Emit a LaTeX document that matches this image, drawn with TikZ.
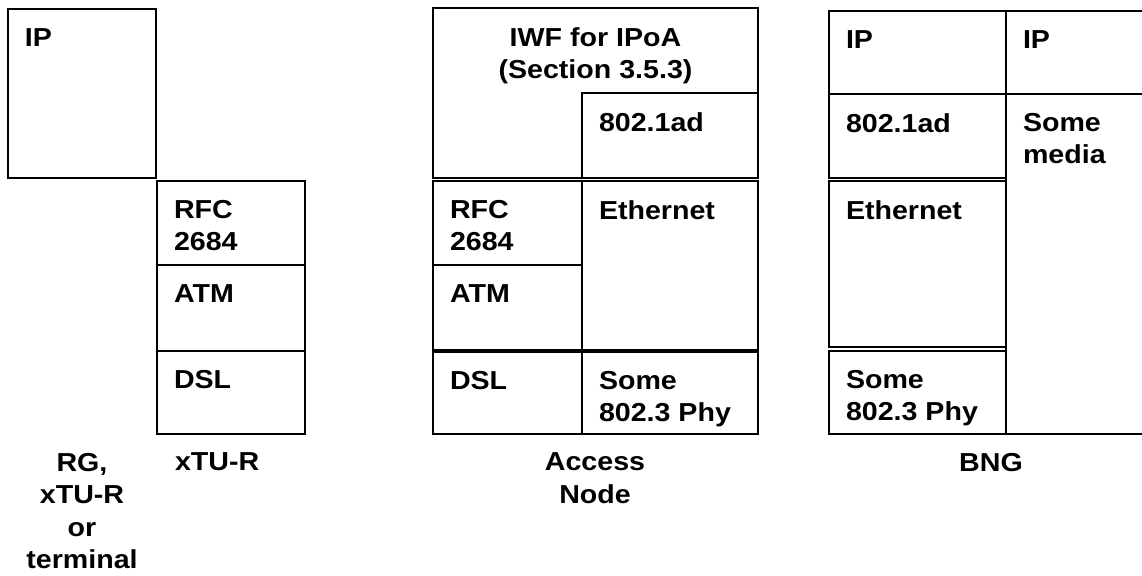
\documentclass[tikz,border=0pt]{standalone}
\usepackage{fontspec}
\setmainfont{Liberation Sans}[FakeStretch=1.1]
\usepackage{tikz}
\usetikzlibrary{fit}
\newcommand{\layerfont}{\fontsize{13}{16}\selectfont\bfseries}
\newcommand{\devicefont}{\fontsize{13}{16.3}\selectfont\bfseries}
\tikzstyle{layer}=[rectangle,draw=black,line width=1.100,inner sep=0pt,outer sep=0pt]
\tikzstyle{tag}=[anchor=north west,inner xsep=8.5pt,inner ysep=9.8pt,outer sep=0pt,align=left,font=\layerfont]
\tikzstyle{ctag}=[anchor=north,inner xsep=0pt,inner ysep=9.8pt,outer sep=0pt,align=center,font=\layerfont]
\tikzstyle{device}=[anchor=north,inner sep=0pt,outer sep=0pt,align=center,font=\devicefont]
\tikzstyle{ldevice}=[anchor=north west,inner sep=0pt,outer sep=0pt,align=left,font=\devicefont]

\begin{document}
\begin{tikzpicture}[x=0.5pt,y=-0.5pt]
	\useasboundingbox (0,0) rectangle (1142,575);

	% RG, xTU-R or terminal
	\node [style=layer, fit={(8,9) (156,178)}] (ipT) {};
	\node [style=tag] (ipTt) at (ipT.north west) {IP};

	% xTU-R
	\node [style=layer, fit={(157,181) (305,265)}] (rfcX) {};
	\node [style=layer, fit={(157,265) (305,351)}] (atmX) {};
	\node [style=layer, fit={(157,351) (305,434)}] (dslX) {};
	\node [style=tag] (rfcXt) at (rfcX.north west) {RFC\\2684};
	\node [style=tag] (atmXt) at (atmX.north west) {ATM};
	\node [style=tag] (dslXt) at (dslX.north west) {DSL};

	% Access Node
	\node [style=layer, fit={(433,8) (758,178)}] (iwfA) {};
	\node [style=layer, fit={(582,93) (758,178)}] (adA) {};
	\node [style=layer, fit={(433,181) (582,265)}] (rfcA) {};
	\node [style=layer, fit={(433,265) (582,350)}] (atmA) {};
	\node [style=layer, fit={(433,352) (582,434)}] (dslA) {};
	\node [style=layer, fit={(582,181) (758,350)}] (ethA) {};
	\node [style=layer, fit={(582,352) (758,434)}] (phyA) {};
	\node [style=ctag] (iwfAt) at (iwfA.north) {IWF for IPoA\\(Section 3.5.3)};
	\node [style=tag] (adAt) at (adA.north west) {802.1ad};
	\node [style=tag] (rfcAt) at (rfcA.north west) {RFC\\2684};
	\node [style=tag] (atmAt) at (atmA.north west) {ATM};
	\node [style=tag] (dslAt) at (dslA.north west) {DSL};
	\node [style=tag] (ethAt) at (ethA.north west) {Ethernet};
	\node [style=tag] (phyAt) at (phyA.north west) {Some\\802.3 Phy};

	% BNG
	\node [style=layer, fit={(829,11) (1006,94)}] (ipB) {};
	\node [style=layer, fit={(829,94) (1006,178)}] (adB) {};
	\node [style=layer, fit={(829,181) (1006,347)}] (ethB) {};
	\node [style=layer, fit={(829,351) (1006,434)}] (phyB) {};
	\node [style=layer, fit={(1006,11) (1160,94)}] (ipN) {};
	\node [style=layer, fit={(1006,94) (1160,434)}] (mediaN) {};
	\node [style=tag] (ipBt) at (ipB.north west) {IP};
	\node [style=tag] (adBt) at (adB.north west) {802.1ad};
	\node [style=tag] (ethBt) at (ethB.north west) {Ethernet};
	\node [style=tag] (phyBt) at (phyB.north west) {Some\\802.3 Phy};
	\node [style=tag] (ipNt) at (ipN.north west) {IP};
	\node [style=tag] (mediaNt) at (mediaN.north west) {Some\\media};

	% device names
	\node [style=device] (rgName) at (82,453) {RG,\\xTU-R\\or\\terminal};
	\node [style=ldevice] (xtuName) at (175,453) {xTU-R};
	\node [style=device] (anName) at (595,453) {Access\\Node};
	\node [style=device] (bngName) at (991,453) {BNG};
\end{tikzpicture}
\end{document}
